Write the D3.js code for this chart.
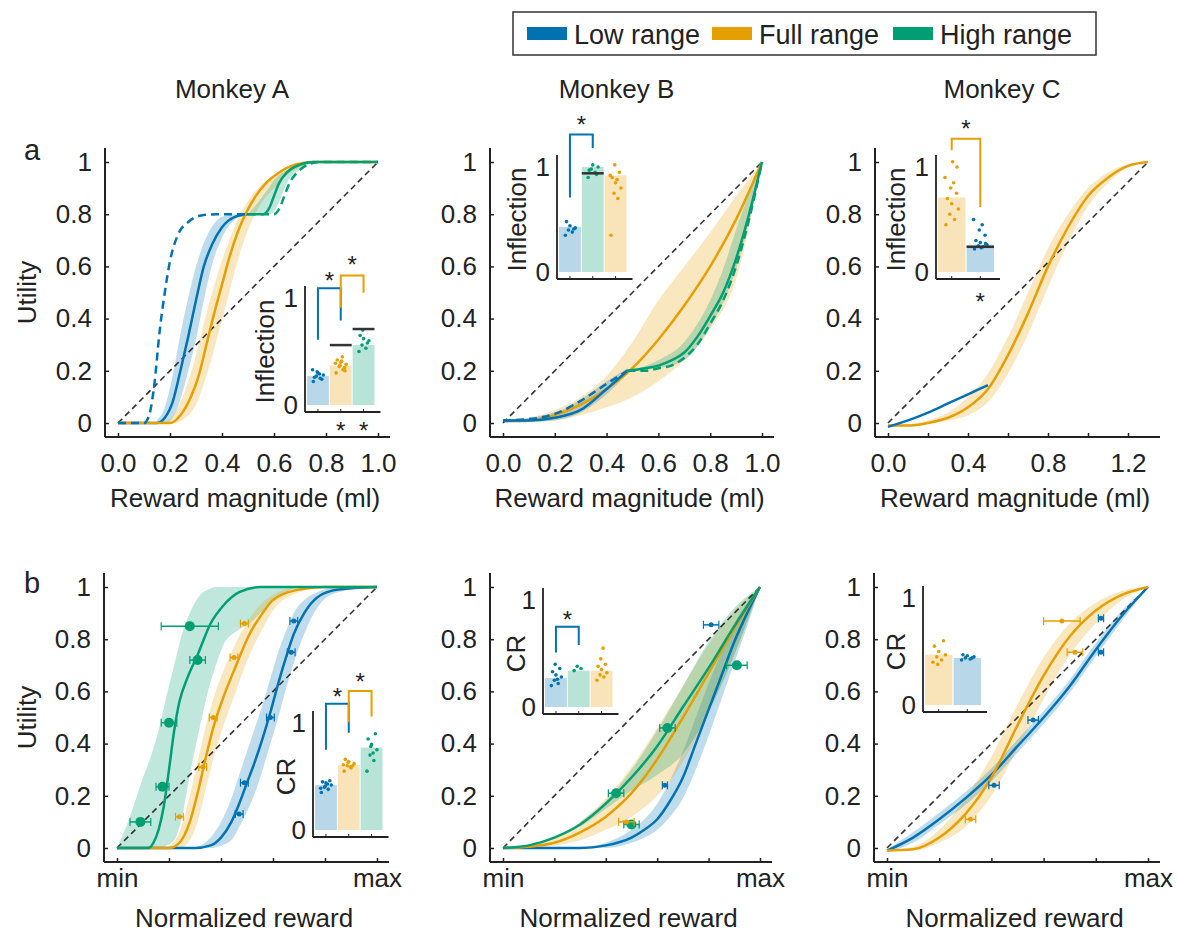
<!DOCTYPE html>
<html>
<head>
<meta charset="utf-8">
<script src="https://cdn.jsdelivr.net/npm/d3@7"></script>
<style>
  body { margin: 0; background: #fff; }
  svg text { font-family: "Liberation Sans", Arial, Helvetica, sans-serif; fill: #222; }
</style>
</head>
<body>
<svg id="chart" width="1177" height="934"></svg>
<script>
// Series colours and labels
const colors = {low: '#0072B2', full: '#E69F00', high: '#009E73'};
const legendItems = [['low', 'Low range'], ['full', 'Full range'], ['high', 'High range']];
const monkeyTitles = ['Monkey A', 'Monkey B', 'Monkey C'];

// Tick values / labels
const yTicks = [0, 0.2, 0.4, 0.6, 0.8, 1];
const yTickLabels = ['0', '0.2', '0.4', '0.6', '0.8', '1'];
const mlTicks = [0, 0.2, 0.4, 0.6, 0.8, 1];
const mlTickLabels = ['0.0', '0.2', '0.4', '0.6', '0.8', '1.0'];
const mlTicksC = [0, 0.2, 0.4, 0.6, 0.8, 1.0, 1.2];
const mlTickLabelsC = ['0.0', '', '0.4', '', '0.8', '', '1.2'];
const normTicks = [0, 0.2, 0.4, 0.6, 0.8, 1];
const normTickLabels = ['min', '', '', '', '', 'max'];

/////////////////////////////////////////////////////////
///////////// Row a: utility vs magnitude ///////////////
/////////////////////////////////////////////////////////
// curves are [x, y]; bands are [x, lower, upper]
const aLowDash = [[0,0],[0.1,0],[0.12,0.03],[0.14,0.15],[0.16,0.35],[0.18,0.5],[0.2,0.62],[0.23,0.72],[0.27,0.77],[0.32,0.795],[0.38,0.8],[0.5,0.8]];
const aLowFit = [[0,0],[0.15,0],[0.18,0.02],[0.21,0.08],[0.24,0.2],[0.27,0.33],[0.3,0.47],[0.33,0.6],[0.36,0.68],[0.4,0.75],[0.45,0.79],[0.5,0.8]];
const aFullFit = [[0,0],[0.2,0],[0.24,0.03],[0.28,0.1],[0.31,0.18],[0.34,0.3],[0.37,0.42],[0.4,0.53],[0.43,0.64],[0.46,0.73],[0.49,0.8],[0.53,0.87],[0.57,0.92],[0.62,0.96],[0.68,0.99],[0.75,1],[1,1]];
const aHighFit = [[0.5,0.8],[0.56,0.8],[0.58,0.82],[0.6,0.87],[0.62,0.92],[0.65,0.96],[0.7,0.99],[0.75,1],[1,1]];
const aHighDash = [[0.5,0.8],[0.6,0.8],[0.62,0.82],[0.64,0.87],[0.66,0.92],[0.69,0.96],[0.73,0.99],[0.78,1],[1,1]];
const aLowBand = [[0.15,0,0.01],[0.18,0,0.06],[0.21,0.02,0.18],[0.24,0.09,0.34],[0.27,0.2,0.48],[0.3,0.32,0.6],[0.33,0.47,0.69],[0.36,0.6,0.75],[0.4,0.71,0.79],[0.45,0.78,0.8],[0.5,0.8,0.8]];
const aFullBand = [[0.18,0,0],[0.22,0,0.04],[0.26,0.02,0.13],[0.3,0.07,0.26],[0.34,0.18,0.42],[0.38,0.32,0.56],[0.42,0.47,0.68],[0.46,0.62,0.78],[0.5,0.74,0.85],[0.55,0.84,0.91],[0.6,0.9,0.95],[0.65,0.95,0.98],[0.7,0.98,0.995],[0.75,1,1]];
const aHighBand = [[0.5,0.8,0.8],[0.55,0.8,0.86],[0.58,0.8,0.9],[0.6,0.81,0.93],[0.62,0.85,0.95],[0.65,0.92,0.97],[0.7,0.97,0.99],[0.75,1,1]];

const bLowFit = [[0,0.01],[0.1,0.01],[0.2,0.02],[0.3,0.05],[0.4,0.13],[0.48,0.2]];
const bLowDash = [[0,0.01],[0.1,0.015],[0.2,0.035],[0.3,0.085],[0.4,0.15],[0.48,0.2]];
const bFullFit = [[0,0.01],[0.1,0.01],[0.2,0.03],[0.3,0.07],[0.4,0.13],[0.5,0.21],[0.6,0.32],[0.7,0.45],[0.8,0.6],[0.9,0.78],[1,1]];
const bHighFit = [[0.48,0.2],[0.55,0.21],[0.6,0.22],[0.65,0.24],[0.7,0.27],[0.75,0.33],[0.8,0.41],[0.85,0.5],[0.9,0.63],[0.95,0.8],[1,1]];
const bHighDash = [[0.48,0.2],[0.55,0.2],[0.6,0.21],[0.65,0.22],[0.7,0.25],[0.75,0.3],[0.8,0.38],[0.85,0.47],[0.9,0.6],[0.95,0.78],[1,1]];
const bLowBand = [[0,0,0.01],[0.2,0.01,0.04],[0.3,0.04,0.09],[0.4,0.11,0.16],[0.48,0.19,0.21]];
const bFullBand = [[0,0,0.01],[0.1,0.005,0.02],[0.2,0.01,0.05],[0.3,0.03,0.1],[0.4,0.06,0.18],[0.5,0.1,0.31],[0.6,0.16,0.47],[0.7,0.24,0.6],[0.8,0.36,0.73],[0.9,0.55,0.87],[1,1,1]];
const bHighBand = [[0.48,0.2,0.2],[0.6,0.21,0.24],[0.7,0.24,0.31],[0.8,0.37,0.47],[0.85,0.46,0.59],[0.9,0.59,0.74],[0.95,0.77,0.88],[1,1,1]];

const cLowFit = [[0,-0.015],[0.1,0.01],[0.2,0.04],[0.3,0.075],[0.4,0.11],[0.5,0.145]];
const cFullFit = [[0,-0.01],[0.1,-0.01],[0.2,0],[0.3,0.02],[0.4,0.06],[0.5,0.13],[0.6,0.26],[0.7,0.42],[0.8,0.6],[0.9,0.75],[1.0,0.87],[1.1,0.94],[1.2,0.985],[1.3,1]];
const cFullBand = [[0,-0.01,-0.01],[0.1,-0.01,-0.005],[0.2,0,0.01],[0.3,0.01,0.04],[0.4,0.03,0.1],[0.5,0.08,0.19],[0.6,0.19,0.33],[0.7,0.34,0.5],[0.8,0.52,0.67],[0.9,0.69,0.8],[1.0,0.83,0.9],[1.1,0.92,0.96],[1.2,0.98,0.99],[1.3,1,1]];

/////////////////////////////////////////////////////////
//////////// Row b: normalized reward ///////////////////
/////////////////////////////////////////////////////////
const dHighFit = [[0,0],[0.12,0],[0.14,0.02],[0.16,0.07],[0.18,0.16],[0.2,0.3],[0.22,0.45],[0.24,0.56],[0.27,0.65],[0.31,0.74],[0.36,0.86],[0.41,0.93],[0.47,0.98],[0.55,1],[1,1]];
const dFullFit = [[0,0],[0.2,0],[0.24,0.02],[0.28,0.1],[0.31,0.21],[0.34,0.34],[0.37,0.46],[0.41,0.58],[0.45,0.68],[0.51,0.82],[0.56,0.9],[0.6,0.95],[0.7,0.99],[0.8,1],[1,1]];
const dLowFit = [[0,0],[0.3,0],[0.36,0.01],[0.4,0.04],[0.44,0.1],[0.47,0.17],[0.5,0.25],[0.53,0.33],[0.56,0.42],[0.59,0.52],[0.62,0.63],[0.65,0.73],[0.68,0.82],[0.72,0.9],[0.77,0.96],[0.85,0.99],[1,1]];
const dHighBand = [[0,0,0],[0.05,0,0.12],[0.1,0,0.27],[0.13,0,0.35],[0.16,0,0.45],[0.19,0.01,0.58],[0.22,0.03,0.7],[0.25,0.12,0.82],[0.28,0.28,0.9],[0.32,0.47,0.97],[0.35,0.6,0.99],[0.38,0.7,1],[0.41,0.78,1],[0.46,0.83,1],[0.51,0.86,1],[0.58,0.93,1],[0.65,0.98,1],[0.7,1,1],[1,1,1]];
const dFullBand = [[0.2,0,0.005],[0.24,0,0.06],[0.28,0.03,0.2],[0.31,0.1,0.33],[0.34,0.22,0.46],[0.37,0.34,0.57],[0.41,0.47,0.68],[0.45,0.58,0.77],[0.51,0.74,0.88],[0.56,0.84,0.94],[0.6,0.91,0.97],[0.7,0.98,1],[0.8,1,1]];
const dLowBand = [[0.3,0,0],[0.36,0,0.04],[0.4,0.01,0.1],[0.44,0.03,0.19],[0.47,0.08,0.28],[0.5,0.14,0.37],[0.53,0.21,0.46],[0.56,0.3,0.55],[0.59,0.4,0.65],[0.62,0.5,0.75],[0.65,0.61,0.83],[0.68,0.71,0.9],[0.72,0.82,0.95],[0.77,0.92,0.98],[0.85,0.98,1],[1,1,1]];
// points [x, y, horizontal error]
const dHighPts = [[0.09,0.1,0.04],[0.175,0.235,0.025],[0.2,0.48,0.03],[0.28,0.85,0.11],[0.31,0.72,0.03]];
const dFullPts = [[0.24,0.12,0.015],[0.33,0.31,0.015],[0.37,0.5,0.015],[0.45,0.73,0.015],[0.49,0.86,0.015]];
const dLowPts = [[0.47,0.13,0.015],[0.49,0.25,0.015],[0.59,0.5,0.015],[0.67,0.75,0.015],[0.68,0.87,0.015]];

const eHighFit = [[0,0],[0.1,0.01],[0.2,0.04],[0.3,0.09],[0.4,0.17],[0.5,0.27],[0.6,0.39],[0.7,0.54],[0.8,0.69],[0.9,0.85],[1,1]];
const eFullFit = [[0,0],[0.1,0.005],[0.2,0.02],[0.3,0.06],[0.4,0.12],[0.5,0.21],[0.6,0.34],[0.7,0.5],[0.8,0.67],[0.9,0.84],[1,1]];
const eLowFit = [[0,0],[0.3,0],[0.4,0.01],[0.5,0.04],[0.55,0.07],[0.6,0.11],[0.65,0.18],[0.7,0.27],[0.75,0.4],[0.8,0.53],[0.85,0.66],[0.9,0.79],[0.95,0.9],[1,1]];
const eLowBand = [[0.3,0,0],[0.4,0,0.02],[0.5,0.02,0.07],[0.55,0.04,0.11],[0.6,0.07,0.17],[0.65,0.12,0.26],[0.7,0.19,0.37],[0.75,0.3,0.5],[0.8,0.43,0.63],[0.85,0.57,0.75],[0.9,0.71,0.86],[0.95,0.85,0.94],[1,1,1]];
const eFullBand = [[0,0,0],[0.1,0,0.01],[0.2,0.01,0.04],[0.3,0.03,0.1],[0.4,0.07,0.19],[0.5,0.12,0.31],[0.6,0.2,0.46],[0.7,0.33,0.62],[0.8,0.52,0.78],[0.9,0.74,0.91],[1,1,1]];
const eHighBand = [[0.3,0.08,0.1],[0.4,0.15,0.18],[0.5,0.22,0.3],[0.6,0.28,0.45],[0.7,0.36,0.62],[0.8,0.52,0.79],[0.9,0.74,0.92],[1,1,1]];
const eHighPts = [[0.44,0.21,0.03],[0.5,0.09,0.03],[0.64,0.46,0.03],[0.91,0.7,0.04]];
const eLowPts = [[0.81,0.855,0.03],[0.63,0.24,0.01]];
const eFullPts = [[0.48,0.1,0.03]];

const fFullFit = [[0,-0.01],[0.1,-0.005],[0.2,0.04],[0.3,0.13],[0.4,0.27],[0.5,0.47],[0.6,0.66],[0.7,0.81],[0.8,0.91],[0.9,0.97],[1,1]];
const fLowFit = [[0,-0.01],[0.1,0.04],[0.2,0.11],[0.3,0.19],[0.4,0.28],[0.5,0.39],[0.6,0.5],[0.7,0.62],[0.8,0.76],[0.9,0.89],[1,1]];
const fFullBand = [[0,-0.01,-0.01],[0.1,-0.01,0.005],[0.2,0.02,0.07],[0.3,0.08,0.19],[0.4,0.2,0.35],[0.5,0.38,0.55],[0.6,0.57,0.73],[0.7,0.74,0.86],[0.8,0.86,0.94],[0.9,0.95,0.985],[1,1,1]];
const fLowBand = [[0,-0.015,-0.005],[0.1,0.02,0.06],[0.2,0.09,0.135],[0.3,0.165,0.215],[0.4,0.255,0.305],[0.5,0.365,0.415],[0.6,0.475,0.525],[0.7,0.595,0.645],[0.8,0.735,0.785],[0.9,0.87,0.91],[1,1,1]];
const fFullPts = [[0.67,0.87,0.07],[0.72,0.75,0.03],[0.32,0.11,0.02]];
const fLowPts = [[0.82,0.88,0.01],[0.82,0.75,0.01],[0.41,0.24,0.02],[0.56,0.49,0.02]];

/////////////////////////////////////////////////////////
//////////////// Inset bar values ///////////////////////
/////////////////////////////////////////////////////////
const insAOrder = ['low', 'full', 'high'];
const insAMeans = [0.27, 0.37, 0.56];
const insADots = [[0.22,0.25,0.27,0.28,0.3,0.26,0.24,0.31,0.29,0.33],[0.3,0.33,0.36,0.38,0.4,0.42,0.35,0.37,0.45,0.39,0.32,0.41],[0.5,0.53,0.56,0.6,0.62,0.65,0.58,0.7]];
const insARef = [null, 0.56, 0.71];

const insBOrder = ['low', 'high', 'full'];
const insBMeans = [0.43, 1.0, 0.92];
const insBDots = [[0.35,0.38,0.4,0.42,0.44,0.48,0.41],[0.9,0.95,0.98,1.0,1.02,0.97,0.93],[0.35,0.7,0.75,0.8,0.85,0.9,0.95,1.02,0.88,0.92]];
const insBRef = [null, 0.94, null];

const insCOrder = ['full', 'low'];
const insCMeans = [0.71, 0.26];
const insCDots = [[0.45,0.5,0.55,0.6,0.65,0.7,0.75,0.8,0.85,0.9,1.0,1.05],[0.22,0.24,0.25,0.26,0.28,0.3,0.35,0.4,0.45,0.5,0.27,0.23]];
const insCRef = [null, 0.24];

const insDOrder = ['low', 'full', 'high'];
const insDMeans = [0.42, 0.61, 0.77];
const insDDots = [[0.35,0.38,0.4,0.42,0.44,0.45,0.46,0.41,0.43,0.39],[0.55,0.58,0.6,0.62,0.64,0.66,0.6,0.63,0.59,0.61],[0.55,0.65,0.7,0.75,0.8,0.85,0.9,0.78,0.72]];

const insEOrder = ['low', 'high', 'full'];
const insEMeans = [0.27, 0.34, 0.34];
const insEDots = [[0.2,0.22,0.25,0.28,0.3,0.33,0.36,0.4,0.26],[0.34,0.36,0.38],[0.25,0.28,0.3,0.32,0.35,0.38,0.4,0.45,0.55]];

const insFOrder = ['full', 'low'];
const insFMeans = [0.47, 0.44];
const insFDots = [[0.4,0.42,0.45,0.47,0.5,0.55,0.6,0.38],[0.42,0.43,0.44,0.45,0.46,0.47,0.44]];

// horizontal jitter pattern for the inset dots (fraction of bar width)
const jitter = [-0.6, 0.3, -0.2, 0.7, 0.0, -0.45, 0.5, -0.1, 0.2, -0.7, 0.55, 0.1];

/////////////////////////////////////////////////////////
//////////////////// Drawing ////////////////////////////
/////////////////////////////////////////////////////////
const svg = d3.select('#chart');
const FONT = 26;

const panels = [
  {xd: [0, 1], xr: [118, 378], yr: [423, 162], ticks: mlTicks, labels: mlTickLabels, title: monkeyTitles[0], letter: 'a', ylabel: true,
   xlabel: 'Reward magnitude (ml)', diag: [[0,0],[1,1]],
   bands: [['low', aLowBand], ['full', aFullBand], ['high', aHighBand]],
   lines: [['low', aLowFit, false], ['full', aFullFit, false], ['high', aHighFit, false], ['low', aLowDash, true], ['high', aHighDash, true]],
   pts: []},
  {xd: [0, 1], xr: [503, 762], yr: [423, 162], ticks: mlTicks, labels: mlTickLabels, title: monkeyTitles[1],
   xlabel: 'Reward magnitude (ml)', diag: [[0,0],[1,1]],
   bands: [['full', bFullBand], ['low', bLowBand], ['high', bHighBand]],
   lines: [['full', bFullFit, false], ['low', bLowFit, false], ['high', bHighFit, false], ['low', bLowDash, true], ['high', bHighDash, true]],
   pts: []},
  {xd: [0, 1.3], xr: [888, 1148], yr: [423, 162], ticks: mlTicksC, labels: mlTickLabelsC, title: monkeyTitles[2],
   xlabel: 'Reward magnitude (ml)', diag: [[0,0],[1.3,1]],
   bands: [['full', cFullBand]],
   lines: [['full', cFullFit, false], ['low', cLowFit, false]],
   pts: []},
  {xd: [0, 1], xr: [117, 377], yr: [848, 587], ticks: normTicks, labels: normTickLabels, letter: 'b', ylabel: true,
   xlabel: 'Normalized reward', diag: [[0,0],[1,1]], bottom: true,
   bands: [['high', dHighBand], ['full', dFullBand], ['low', dLowBand]],
   lines: [['low', dLowFit, false], ['full', dFullFit, false], ['high', dHighFit, false]],
   pts: [['high', dHighPts, 5], ['full', dFullPts, 2.5], ['low', dLowPts, 2.5]]},
  {xd: [0, 1], xr: [503, 760], yr: [848, 587], ticks: normTicks, labels: normTickLabels,
   xlabel: 'Normalized reward', diag: [[0,0],[1,1]], bottom: true,
   bands: [['low', eLowBand], ['full', eFullBand], ['high', eHighBand]],
   lines: [['low', eLowFit, false], ['full', eFullFit, false], ['high', eHighFit, false]],
   pts: [['high', eHighPts, 5], ['low', eLowPts, 2.5], ['full', eFullPts, 2.5]]},
  {xd: [0, 1], xr: [887, 1148], yr: [848, 587], ticks: normTicks, labels: normTickLabels,
   xlabel: 'Normalized reward', diag: [[0,0],[1,1]], bottom: true,
   bands: [['full', fFullBand], ['low', fLowBand]],
   lines: [['low', fLowFit, false], ['full', fFullFit, false]],
   pts: [['full', fFullPts, 2.5], ['low', fLowPts, 2.5]]}
];

const insets = [
  {order: insAOrder, means: insAMeans, dots: insADots, ref: insARef, left: 305, zero: 405, one: 298, barW: 22.5, label: 'Inflection',
   brackets: [{a: 0, b: 1, s: 'low', l: 0.61, top: 1.09, r: 0.79, star: 1.21}, {a: 1, b: 2, s: 'full', l: 0.91, top: 1.21, r: 1.05, star: 1.36}],
   below: [1, 2], belowY: -0.19},
  {order: insBOrder, means: insBMeans, dots: insBDots, ref: insBRef, left: 557, zero: 272, one: 167, barW: 22.5, label: 'Inflection',
   brackets: [{a: 0, b: 1, s: 'low', l: 0.71, top: 1.31, r: 1.18, star: 1.45}], below: []},
  {order: insCOrder, means: insCMeans, dots: insCDots, ref: insCRef, left: 936, zero: 272, one: 167, barW: 28, label: 'Inflection',
   brackets: [{a: 0, b: 1, s: 'full', l: 1.16, top: 1.27, r: 0.62, star: 1.41}], below: [1], belowY: -0.24},
  {order: insDOrder, means: insDMeans, dots: insDDots, left: 313, zero: 830, one: 723, barW: 22.5, label: 'CR',
   brackets: [{a: 0, b: 1, s: 'low', l: 0.75, top: 1.18, r: 0.91, star: 1.29}, {a: 1, b: 2, s: 'full', l: 1.01, top: 1.3, r: 1.06, star: 1.43}], below: []},
  {order: insEOrder, means: insEMeans, dots: insEDots, left: 543, zero: 707, one: 600, barW: 22.5, label: 'CR',
   brackets: [{a: 0, b: 1, s: 'low', l: 0.51, top: 0.75, r: 0.58, star: 0.86}], below: []},
  {order: insFOrder, means: insFMeans, dots: insFDots, left: 923, zero: 705, one: 598, barW: 28, label: 'CR',
   brackets: [], below: []}
];

panels.forEach((p, i) => {
  drawPanel(p);
  drawInset(insets[i]);
});
drawLegend();

function drawPanel(p) {
  const x = d3.scaleLinear().domain(p.xd).range(p.xr);
  const y = d3.scaleLinear().domain([0, 1]).range(p.yr);
  const g = svg.append('g');
  const axisX = p.xr[0] - 13;
  const axisY = p.yr[0] + 14;

  const area = d3.area().x(d => x(d[0])).y0(d => y(d[1])).y1(d => y(d[2])).curve(d3.curveMonotoneX);
  const line = d3.line().x(d => x(d[0])).y(d => y(d[1])).curve(d3.curveMonotoneX);

  p.bands.forEach(([s, data]) => {
    g.append('path').datum(data).attr('d', area)
      .attr('fill', colors[s]).attr('fill-opacity', 0.25);
  });

  // identity line
  g.append('path').datum(p.diag).attr('d', d3.line().x(d => x(d[0])).y(d => y(d[1])))
    .attr('fill', 'none').attr('stroke', '#333').attr('stroke-width', 1.6).attr('stroke-dasharray', '6,4');

  p.lines.forEach(([s, data, dashed]) => {
    g.append('path').datum(data).attr('d', line)
      .attr('fill', 'none').attr('stroke', colors[s]).attr('stroke-width', 2.5)
      .attr('stroke-dasharray', dashed ? '8,5' : null);
  });

  // data points with horizontal error bars
  p.pts.forEach(([s, data, r]) => {
    const pg = g.append('g').attr('stroke', colors[s]).attr('fill', colors[s]);
    data.forEach(d => {
      pg.append('line').attr('x1', x(d[0] - d[2])).attr('x2', x(d[0] + d[2]))
        .attr('y1', y(d[1])).attr('y2', y(d[1])).attr('stroke-width', 1.5);
      [d[0] - d[2], d[0] + d[2]].forEach(e => pg.append('line')
        .attr('x1', x(e)).attr('x2', x(e)).attr('y1', y(d[1]) - 4).attr('y2', y(d[1]) + 4).attr('stroke-width', 1.2));
      pg.append('circle').attr('cx', x(d[0])).attr('cy', y(d[1])).attr('r', r).attr('stroke', 'none');
    });
  });

  // axes
  const xAxis = d3.axisBottom(x).tickValues(p.ticks).tickFormat((d, i) => p.labels[i])
    .tickSize(-4).tickPadding(p.bottom ? 6.5 : 16.5);
  g.append('g').attr('transform', 'translate(0,' + axisY + ')').call(xAxis)
    .attr('font-size', FONT).attr('font-family', null).attr('color', '#222')
    .call(a => a.select('.domain').remove())
    .call(a => a.selectAll('.tick line').attr('stroke-width', 1.5));
  const yAxis = d3.axisLeft(y).tickValues(yTicks).tickFormat((d, i) => yTickLabels[i])
    .tickSize(-4).tickPadding(13);
  g.append('g').attr('transform', 'translate(' + axisX + ',0)').call(yAxis)
    .attr('font-size', FONT).attr('font-family', null).attr('color', '#222')
    .call(a => a.select('.domain').remove())
    .call(a => a.selectAll('.tick line').attr('stroke-width', 1.5));
  g.append('line').attr('x1', axisX).attr('x2', axisX).attr('y1', p.yr[1] - 14).attr('y2', axisY)
    .attr('stroke', '#222').attr('stroke-width', 2);
  g.append('line').attr('x1', axisX).attr('x2', p.xr[1] + 12).attr('y1', axisY).attr('y2', axisY)
    .attr('stroke', '#222').attr('stroke-width', 2);

  // labels
  const cx = (p.xr[0] + p.xr[1]) / 2;
  g.append('text').text(p.xlabel).attr('x', cx - 3).attr('y', p.bottom ? 927 : 507)
    .attr('text-anchor', 'middle').attr('font-size', FONT);
  if (p.ylabel) {
    g.append('text').text('Utility')
      .attr('transform', 'translate(27,' + (p.yr[0] + p.yr[1]) / 2 + ') rotate(-90)')
      .attr('dy', '0.35em').attr('text-anchor', 'middle').attr('font-size', FONT);
  }
  if (p.title) {
    g.append('text').text(p.title).attr('x', cx - 16).attr('y', 98)
      .attr('text-anchor', 'middle').attr('font-size', FONT);
  }
  if (p.letter) {
    g.append('text').text(p.letter).attr('x', 24).attr('y', p.bottom ? 593 : 160)
      .attr('font-size', 29);
  }
}

function drawInset(ins) {
  const g = svg.append('g');
  const n = ins.order.length;
  const xb = d3.scaleBand().domain(d3.range(n))
    .range([ins.left + 2, ins.left + 2 + ins.barW * n]).paddingInner(0.04);
  const yi = d3.scaleLinear().domain([0, 1]).range([ins.zero, ins.one]);
  const bw = xb.bandwidth();
  const mid = i => xb(i) + bw / 2;

  g.selectAll('rect.bar').data(ins.order).join('rect').attr('class', 'bar')
    .attr('x', (d, i) => xb(i)).attr('width', bw)
    .attr('y', (d, i) => yi(ins.means[i])).attr('height', (d, i) => yi(0) - yi(ins.means[i]))
    .attr('fill', d => colors[d]).attr('fill-opacity', 0.28);

  ins.order.forEach((s, i) => {
    ins.dots[i].forEach((v, j) => {
      g.append('circle').attr('cx', mid(i) + jitter[j % jitter.length] * bw * 0.35)
        .attr('cy', yi(v)).attr('r', 1.8).attr('fill', colors[s]);
    });
    if (ins.ref && ins.ref[i] != null) {
      g.append('line').attr('x1', xb(i)).attr('x2', xb(i) + bw)
        .attr('y1', yi(ins.ref[i])).attr('y2', yi(ins.ref[i]))
        .attr('stroke', '#333').attr('stroke-width', 2.5);
    }
  });

  // axes
  const right = ins.left + 2 + ins.barW * n + 6;
  g.append('line').attr('x1', ins.left).attr('x2', ins.left).attr('y1', yi(1) - 12).attr('y2', ins.zero + 7)
    .attr('stroke', '#222').attr('stroke-width', 1.8);
  g.append('line').attr('x1', ins.left).attr('x2', right).attr('y1', ins.zero + 7).attr('y2', ins.zero + 7)
    .attr('stroke', '#222').attr('stroke-width', 1.8);
  d3.range(n).forEach(i => g.append('line').attr('x1', mid(i)).attr('x2', mid(i))
    .attr('y1', ins.zero + 7).attr('y2', ins.zero + 4).attr('stroke', '#222'));
  [[0, '0'], [1, '1']].forEach(([v, t]) => {
    g.append('text').text(t).attr('x', ins.left - 7).attr('y', yi(v)).attr('dy', '0.35em')
      .attr('text-anchor', 'end').attr('font-size', FONT);
  });
  const lx = ins.left - (ins.label === 'CR' ? 27 : 40);
  g.append('text').text(ins.label)
    .attr('transform', 'translate(' + lx + ',' + (ins.zero + ins.one) / 2 + ') rotate(-90)')
    .attr('dy', '0.35em').attr('text-anchor', 'middle').attr('font-size', FONT);

  // significance brackets
  ins.brackets.forEach(b => {
    const x1 = mid(b.a), x2 = mid(b.b);
    g.append('path').attr('d', d3.line()([[x1, yi(b.l)], [x1, yi(b.top)], [x2, yi(b.top)], [x2, yi(b.r)]]))
      .attr('fill', 'none').attr('stroke', colors[b.s]).attr('stroke-width', 2);
    g.append('text').text('*').attr('x', (x1 + x2) / 2).attr('y', yi(b.star)).attr('dy', '0.55em')
      .attr('text-anchor', 'middle').attr('font-size', 24);
  });
  ins.below.forEach(i => {
    g.append('text').text('*').attr('x', mid(i)).attr('y', yi(ins.belowY)).attr('dy', '0.55em')
      .attr('text-anchor', 'middle').attr('font-size', 24);
  });
}

function drawLegend() {
  const lg = svg.append('g');
  lg.append('rect').attr('x', 513).attr('y', 12).attr('width', 583).attr('height', 43)
    .attr('fill', '#fff').attr('stroke', '#333').attr('stroke-width', 1.5);
  const starts = [527, 712, 893];
  legendItems.forEach(([s, label], i) => {
    lg.append('rect').attr('x', starts[i]).attr('y', 27).attr('width', 40).attr('height', 13)
      .attr('fill', colors[s]);
    lg.append('text').text(label).attr('x', starts[i] + 47).attr('y', 44)
      .attr('font-size', 27);
  });
}
</script>
</body>
</html>
